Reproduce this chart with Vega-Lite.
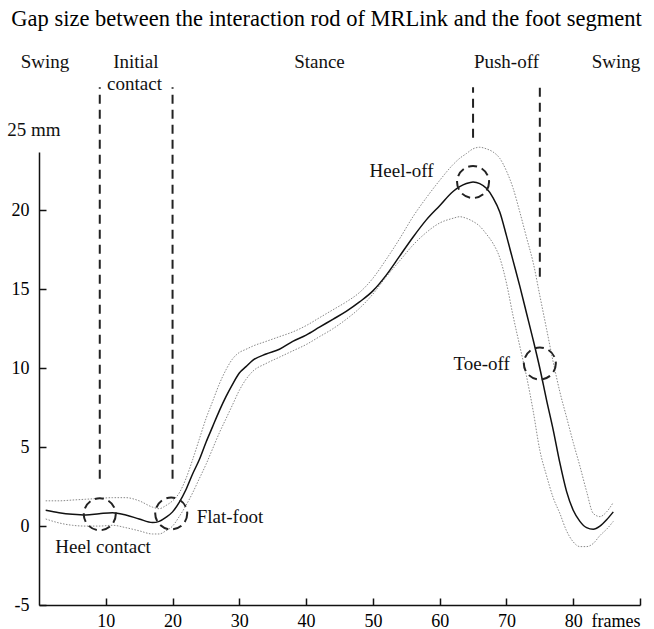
{
  "$schema": "https://vega.github.io/schema/vega-lite/v6.json",
  "width": 601,
  "height": 453,
  "autosize": {"type": "none"},
  "padding": {"left": 39, "top": 152, "right": 14, "bottom": 24},
  "background": "white",
  "title": {
    "text": "Gap size between the interaction rod of MRLink and the foot segment",
    "font": "Liberation Serif",
    "fontSize": 22.5,
    "fontWeight": "normal",
    "color": "black",
    "anchor": "middle",
    "offset": 23,
    "dx": -13
  },
  "config": {
    "view": {"stroke": null, "fill": null},
    "axis": {
      "grid": false,
      "title": null,
      "ticks": true,
      "zindex": 1,
      "domainColor": "#111",
      "domainWidth": 1.5,
      "tickColor": "#111",
      "tickWidth": 1.5,
      "labelFont": "Liberation Serif",
      "labelFontSize": 18,
      "labelColor": "black"
    }
  },
  "datasets": {
    "curve": [
      {"frame": 1, "mean": 1.0, "upper": 1.6, "lower": 0.45},
      {"frame": 3, "mean": 0.85, "upper": 1.6, "lower": 0.2},
      {"frame": 5, "mean": 0.75, "upper": 1.65, "lower": 0.05},
      {"frame": 7, "mean": 0.7, "upper": 1.7, "lower": 0.0},
      {"frame": 9, "mean": 0.78, "upper": 1.75, "lower": 0.0},
      {"frame": 11, "mean": 0.85, "upper": 1.8, "lower": 0.05},
      {"frame": 13, "mean": 0.7, "upper": 1.8, "lower": -0.1},
      {"frame": 15, "mean": 0.45, "upper": 1.6, "lower": -0.3},
      {"frame": 17, "mean": 0.22, "upper": 1.2, "lower": -0.5},
      {"frame": 18, "mean": 0.3, "upper": 1.1, "lower": -0.5},
      {"frame": 19, "mean": 0.55, "upper": 1.3, "lower": -0.3},
      {"frame": 20, "mean": 0.9, "upper": 1.6, "lower": 0.0},
      {"frame": 21, "mean": 1.5, "upper": 2.1, "lower": 0.6},
      {"frame": 22, "mean": 2.3, "upper": 3.0, "lower": 1.3},
      {"frame": 23, "mean": 3.3, "upper": 4.2, "lower": 2.1},
      {"frame": 24, "mean": 4.2, "upper": 5.5, "lower": 3.0},
      {"frame": 25, "mean": 5.3, "upper": 6.8, "lower": 3.9},
      {"frame": 26, "mean": 6.3, "upper": 7.9, "lower": 4.9},
      {"frame": 27, "mean": 7.3, "upper": 9.0, "lower": 5.9},
      {"frame": 28, "mean": 8.2, "upper": 9.9, "lower": 6.8},
      {"frame": 29, "mean": 9.0, "upper": 10.6, "lower": 7.7},
      {"frame": 30, "mean": 9.7, "upper": 11.0, "lower": 8.6},
      {"frame": 31, "mean": 10.1, "upper": 11.2, "lower": 9.3},
      {"frame": 32, "mean": 10.5, "upper": 11.4, "lower": 9.8},
      {"frame": 34, "mean": 10.9, "upper": 11.7, "lower": 10.3},
      {"frame": 36, "mean": 11.2, "upper": 12.0, "lower": 10.7},
      {"frame": 38, "mean": 11.7, "upper": 12.3, "lower": 11.1},
      {"frame": 40, "mean": 12.1, "upper": 12.7, "lower": 11.5},
      {"frame": 42, "mean": 12.6, "upper": 13.2, "lower": 12.0},
      {"frame": 44, "mean": 13.1, "upper": 13.7, "lower": 12.5},
      {"frame": 46, "mean": 13.6, "upper": 14.2, "lower": 13.1},
      {"frame": 48, "mean": 14.2, "upper": 14.8, "lower": 13.8},
      {"frame": 50, "mean": 14.9, "upper": 15.7, "lower": 14.7},
      {"frame": 52, "mean": 15.9, "upper": 16.9, "lower": 15.8},
      {"frame": 54, "mean": 17.1, "upper": 18.2, "lower": 16.8},
      {"frame": 56, "mean": 18.3, "upper": 19.6, "lower": 17.8},
      {"frame": 58, "mean": 19.4, "upper": 20.8, "lower": 18.6},
      {"frame": 60, "mean": 20.3, "upper": 21.9, "lower": 19.2},
      {"frame": 62, "mean": 21.2, "upper": 22.9, "lower": 19.5},
      {"frame": 63, "mean": 21.5, "upper": 23.3, "lower": 19.6},
      {"frame": 64, "mean": 21.7, "upper": 23.6, "lower": 19.5},
      {"frame": 65, "mean": 21.8, "upper": 23.9, "lower": 19.3},
      {"frame": 66, "mean": 21.7, "upper": 24.0, "lower": 19.0},
      {"frame": 67, "mean": 21.4, "upper": 23.9, "lower": 18.5},
      {"frame": 68, "mean": 20.8, "upper": 23.7, "lower": 17.9},
      {"frame": 69, "mean": 19.9, "upper": 23.3, "lower": 17.0},
      {"frame": 70, "mean": 18.4, "upper": 22.5, "lower": 15.4},
      {"frame": 71, "mean": 16.8, "upper": 21.4, "lower": 13.3},
      {"frame": 72, "mean": 15.2, "upper": 19.9, "lower": 11.4},
      {"frame": 73, "mean": 13.5, "upper": 18.3, "lower": 9.5},
      {"frame": 74, "mean": 11.8, "upper": 16.7, "lower": 7.3},
      {"frame": 75, "mean": 10.0, "upper": 14.6, "lower": 4.8},
      {"frame": 76, "mean": 8.0, "upper": 12.5, "lower": 3.2},
      {"frame": 77, "mean": 6.1, "upper": 10.4, "lower": 1.8},
      {"frame": 78, "mean": 4.0, "upper": 8.5, "lower": 0.8},
      {"frame": 79, "mean": 2.2, "upper": 6.9, "lower": -0.3},
      {"frame": 80, "mean": 1.0, "upper": 5.3, "lower": -1.0},
      {"frame": 81, "mean": 0.3, "upper": 3.8, "lower": -1.3},
      {"frame": 82, "mean": -0.1, "upper": 2.2, "lower": -1.3},
      {"frame": 83, "mean": -0.2, "upper": 0.8, "lower": -1.1},
      {"frame": 84, "mean": 0.0, "upper": 0.6, "lower": -0.6},
      {"frame": 85, "mean": 0.4, "upper": 0.9, "lower": -0.2},
      {"frame": 86, "mean": 0.9, "upper": 1.5, "lower": 0.3}
    ],
    "phases": [
      {"frame": 9.1, "from": 3.0, "to": 27.8},
      {"frame": 20.0, "from": 3.0, "to": 27.8},
      {"frame": 65.0, "from": 24.6, "to": 27.8},
      {"frame": 75.0, "from": 15.8, "to": 27.8}
    ],
    "events": [
      {"event": "Heel contact", "frame": 9.1, "gap": 0.75},
      {"event": "Flat-foot", "frame": 19.8, "gap": 0.8},
      {"event": "Heel-off", "frame": 65.0, "gap": 21.8},
      {"event": "Toe-off", "frame": 75.0, "gap": 10.3}
    ],
    "labels": [
      {"text": "Swing", "frame": 0.9, "gap": 29.4},
      {"text": "Initial", "frame": 14.5, "gap": 29.4},
      {"text": "contact", "frame": 14.3, "gap": 28.0},
      {"text": "Stance", "frame": 42.0, "gap": 29.4},
      {"text": "Push-off", "frame": 70.0, "gap": 29.4},
      {"text": "Swing", "frame": 86.4, "gap": 29.4},
      {"text": "25 mm", "frame": -0.75, "gap": 25.1},
      {"text": "Heel-off", "frame": 54.3, "gap": 22.5},
      {"text": "Toe-off", "frame": 66.3, "gap": 10.3},
      {"text": "Flat-foot", "frame": 28.6, "gap": 0.57},
      {"text": "Heel contact", "frame": 9.6, "gap": -1.33}
    ]
  },
  "layer": [
    {
      "data": {"name": "curve"},
      "mark": {"type": "line", "interpolate": "monotone", "color": "#888", "strokeWidth": 1, "strokeDash": [1.5, 1.5]},
      "encoding": {
        "x": {"field": "frame", "type": "quantitative", "scale": {"domain": [0, 90], "nice": false, "zero": false},
          "axis": {"values": [10, 20, 30, 40, 50, 60, 70, 80, 90], "ticks": true, "tickSize": -7, "labelPadding": 14, "zindex": 1,
            "labelFont": "Liberation Serif", "labelFontSize": 18,
            "labelExpr": "datum.value == 90 ? 'frames' : datum.label",
            "labelAlign": {"condition": {"test": "datum.value == 90", "value": "right"}, "value": "center"}}},
        "y": {"field": "upper", "type": "quantitative", "scale": {"domain": [-5, 23.7], "nice": false, "zero": false},
          "axis": {"values": [-5, 0, 5, 10, 15, 20], "ticks": true, "tickSize": -7, "labelPadding": 17, "zindex": 1,
            "labelFont": "Liberation Serif", "labelFontSize": 18,
            "labelExpr": "datum.value < 0 ? '-' + abs(datum.value) : datum.label"}}
      }
    },
    {
      "data": {"name": "curve"},
      "mark": {"type": "line", "interpolate": "monotone", "color": "#888", "strokeWidth": 1, "strokeDash": [1.5, 1.5]},
      "encoding": {
        "x": {"field": "frame", "type": "quantitative"},
        "y": {"field": "lower", "type": "quantitative"}
      }
    },
    {
      "data": {"name": "curve"},
      "mark": {"type": "line", "interpolate": "monotone", "color": "#111", "strokeWidth": 1.5},
      "encoding": {
        "x": {"field": "frame", "type": "quantitative"},
        "y": {"field": "mean", "type": "quantitative"}
      }
    },
    {
      "data": {"name": "phases"},
      "mark": {"type": "rule", "color": "#222", "strokeWidth": 2, "strokeDash": [9, 6], "clip": false},
      "encoding": {
        "x": {"field": "frame", "type": "quantitative"},
        "y": {"field": "from", "type": "quantitative"},
        "y2": {"field": "to"}
      }
    },
    {
      "data": {"name": "events"},
      "mark": {"type": "point", "shape": "circle", "filled": false, "size": 1024, "color": "#222", "strokeWidth": 2, "strokeDash": [9, 5], "opacity": 1},
      "encoding": {
        "x": {"field": "frame", "type": "quantitative"},
        "y": {"field": "gap", "type": "quantitative"}
      }
    },
    {
      "data": {"name": "labels"},
      "mark": {"type": "text", "font": "Liberation Serif", "fontSize": 19, "color": "#111", "align": "center", "baseline": "middle", "clip": false},
      "encoding": {
        "x": {"field": "frame", "type": "quantitative"},
        "y": {"field": "gap", "type": "quantitative"},
        "text": {"field": "text"}
      }
    }
  ]
}
